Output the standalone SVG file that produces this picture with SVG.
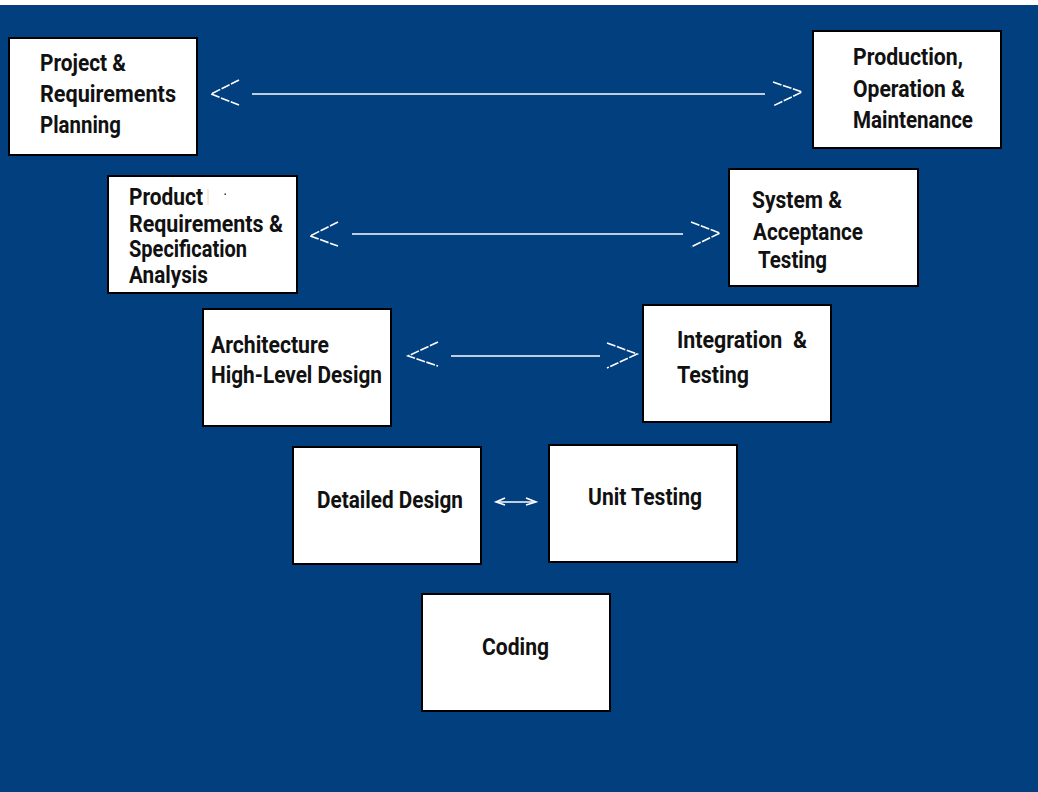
<svg xmlns="http://www.w3.org/2000/svg" width="1038" height="792" viewBox="0 0 1038 792">
<style>
.bg{fill:#023f7e}
.box{fill:#ffffff;stroke:#000000;stroke-width:2}
.t{font-family:Roboto,"Liberation Sans",Arial,sans-serif;font-size:23px;font-weight:700;fill:#111111}
.ln{stroke:#ffffff;stroke-width:1.6;fill:none}
.ch{stroke:#ffffff;stroke-width:1.6;fill:none;stroke-dasharray:9 1.5}
</style>
<rect x="0" y="0" width="1038" height="792" fill="#ffffff"/>
<rect class="bg" x="0" y="5" width="1038" height="787"/>

<g id="connectors">
  <polyline class="ch" points="239,80 211,94 239,105"/>
  <line class="ln" x1="252" y1="94" x2="765" y2="94"/>
  <polyline class="ch" points="773,82 802,92 773,106"/>

  <polyline class="ch" points="338,222 310,236 338,246"/>
  <line class="ln" x1="352" y1="234" x2="683" y2="234"/>
  <polyline class="ch" points="691,222 720,233 691,247"/>

  <polyline class="ch" points="438,342 408,356 438,366"/>
  <line class="ln" x1="451" y1="356" x2="600" y2="356"/>
  <polyline class="ch" points="607,343 637,354 607,368"/>

  <polyline class="ln" points="505,498 496,502 505,505"/>
  <line class="ln" x1="498" y1="502" x2="533" y2="502"/>
  <polyline class="ln" points="526,498 536,502 526,505"/>
</g>

<g id="node-project">
  <rect class="box" x="9" y="38" width="188" height="117"/>
  <text class="t" x="40" y="71" textLength="86" lengthAdjust="spacingAndGlyphs">Project &amp;</text>
  <text class="t" x="40" y="102" textLength="136" lengthAdjust="spacingAndGlyphs">Requirements</text>
  <text class="t" x="40" y="133" textLength="81" lengthAdjust="spacingAndGlyphs">Planning</text>
</g>

<g id="node-production">
  <rect class="box" x="813" y="31" width="188" height="117"/>
  <text class="t" x="853" y="65" textLength="110" lengthAdjust="spacingAndGlyphs">Production,</text>
  <text class="t" x="853" y="97" textLength="112" lengthAdjust="spacingAndGlyphs">Operation &amp;</text>
  <text class="t" x="853" y="128" textLength="120" lengthAdjust="spacingAndGlyphs">Maintenance</text>
</g>

<g id="node-product">
  <rect class="box" x="108" y="176" width="189" height="117"/>
  <text class="t" x="129" y="205" textLength="74" lengthAdjust="spacingAndGlyphs">Product</text>
  <line x1="208" y1="189" x2="208" y2="205" stroke="#f3d9b0" stroke-width="1"/>
  <rect x="224.5" y="193.5" width="1.5" height="1.5" fill="#333333"/>
  <text class="t" x="129" y="232" textLength="154" lengthAdjust="spacingAndGlyphs">Requirements &amp;</text>
  <text class="t" x="129" y="257" textLength="118" lengthAdjust="spacingAndGlyphs">Specification</text>
  <text class="t" x="129" y="283" textLength="79" lengthAdjust="spacingAndGlyphs">Analysis</text>
</g>

<g id="node-system">
  <rect class="box" x="729" y="169" width="189" height="117"/>
  <text class="t" x="752" y="208" textLength="90" lengthAdjust="spacingAndGlyphs">System &amp;</text>
  <text class="t" x="753" y="240" textLength="110" lengthAdjust="spacingAndGlyphs">Acceptance</text>
  <text class="t" x="758" y="268" textLength="69" lengthAdjust="spacingAndGlyphs">Testing</text>
</g>

<g id="node-architecture">
  <rect class="box" x="203" y="309" width="188" height="117"/>
  <text class="t" x="211" y="353" textLength="118" lengthAdjust="spacingAndGlyphs">Architecture</text>
  <text class="t" x="211" y="383" textLength="171" lengthAdjust="spacingAndGlyphs">High-Level Design</text>
</g>

<g id="node-integration">
  <rect class="box" x="643" y="305" width="188" height="117"/>
  <text class="t" x="677" y="348" textLength="130" lengthAdjust="spacingAndGlyphs" xml:space="preserve">Integration  &amp;</text>
  <text class="t" x="677" y="383" textLength="72" lengthAdjust="spacingAndGlyphs">Testing</text>
</g>

<g id="node-detailed">
  <rect class="box" x="293" y="447" width="188" height="117"/>
  <text class="t" x="317" y="508" textLength="146" lengthAdjust="spacingAndGlyphs">Detailed Design</text>
</g>

<g id="node-unit">
  <rect class="box" x="549" y="445" width="188" height="117"/>
  <text class="t" x="588" y="505" textLength="114" lengthAdjust="spacingAndGlyphs">Unit Testing</text>
</g>

<g id="node-coding">
  <rect class="box" x="422" y="594" width="188" height="117"/>
  <text class="t" x="482" y="655" textLength="67" lengthAdjust="spacingAndGlyphs">Coding</text>
</g>
</svg>
